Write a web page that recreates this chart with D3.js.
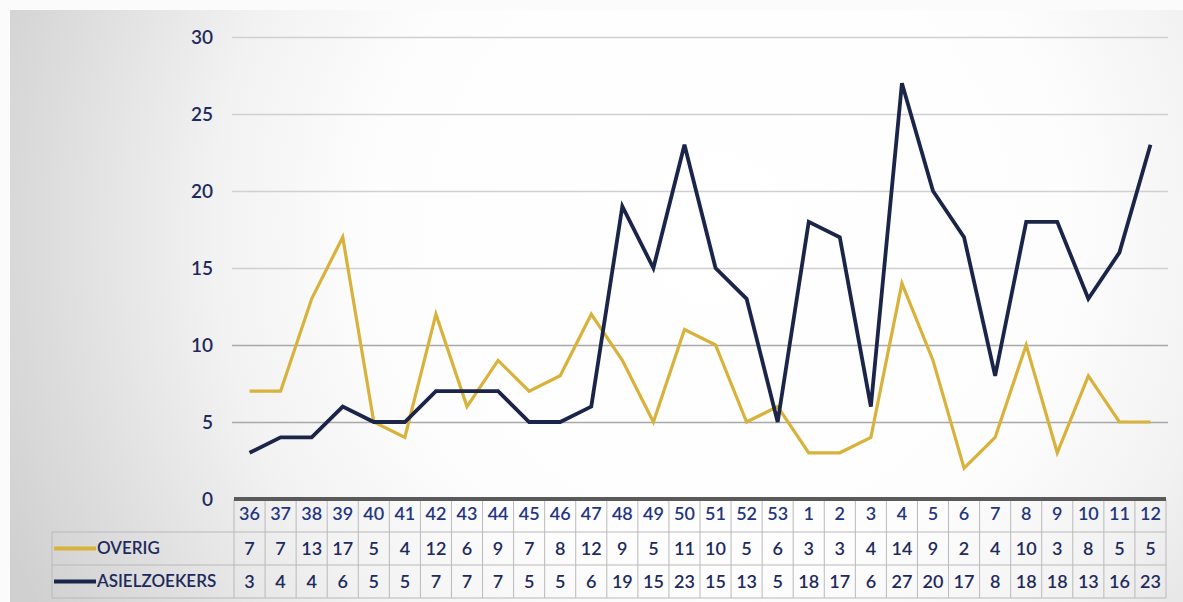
<!DOCTYPE html>
<html><head><meta charset="utf-8">
<script src="https://cdn.jsdelivr.net/npm/d3@7"></script>
<style>html,body{margin:0;padding:0;background:#fff;}svg{display:block;}</style>
</head><body>
<svg id="chart" width="1183" height="602"></svg>
<script>
const weeks = ["36","37","38","39","40","41","42","43","44","45","46","47","48","49","50","51","52","53","1","2","3","4","5","6","7","8","9","10","11","12"];
const overig = [7,7,13,17,5,4,12,6,9,7,8,12,9,5,11,10,5,6,3,3,4,14,9,2,4,10,3,8,5,5];
const asielzoekers = [3,4,4,6,5,5,7,7,7,5,5,6,19,15,23,15,13,5,18,17,6,27,20,17,8,18,18,13,16,23];
const yTicks = [0,5,10,15,20,25,30];
const seriesNames = ["OVERIG","ASIELZOEKERS"];
const seriesColors = ["#d8b23a","#1b2449"];

(function(){
const svg = d3.select("#chart");
const W = 1183, H = 602;
const pLeft = 234, pRight = 1166, pTop = 37, pBottom = 499;
const rowH = [pBottom, 532, 565, 598];
const tableLeft = 52;
const textColor = "#1f2a5c";
const font = "Lato, 'Open Sans', sans-serif";

// scanned background
const defs = svg.append("defs");
const rg = defs.append("radialGradient").attr("id","bg").attr("gradientUnits","userSpaceOnUse")
  .attr("cx",720).attr("cy",230).attr("r",780);
[[0,"#ffffff"],[0.45,"#fdfdfd"],[0.65,"#f2f2f2"],[0.85,"#dedede"],[1,"#d0d0d0"]]
  .forEach(([o,c]) => rg.append("stop").attr("offset",o).attr("stop-color",c));
svg.append("rect").attr("width",W).attr("height",H).attr("fill","#fbfbfb");
svg.append("rect").attr("x",10).attr("y",10).attr("width",W-10).attr("height",H-10).attr("fill","url(#bg)");

const x = d3.scaleBand().domain(weeks).range([pLeft, pRight]).padding(0);
const y = d3.scaleLinear().domain([0,30]).range([pBottom, pTop]);
const cx = d => x(d) + x.bandwidth()/2;

// gridlines
const grid = svg.append("g").attr("transform",`translate(${pLeft-2},0)`)
  .call(d3.axisLeft(y).tickValues(yTicks.filter(t=>t>0)).tickSize(-(pRight-pLeft+4)).tickFormat(""));
grid.select(".domain").remove();
grid.selectAll(".tick line").attr("stroke", d => d<=10 ? "#a8a8a8" : "#d0d0d0").attr("stroke-width",1.6);

// y labels
const yAx = svg.append("g").attr("transform",`translate(213,0)`)
  .call(d3.axisLeft(y).tickValues(yTicks).tickSize(0).tickPadding(0));
yAx.select(".domain").remove();
yAx.selectAll("text").attr("font-family",font).attr("font-size",19).attr("fill",textColor)
  .attr("font-weight",600).attr("text-anchor","end");

// table grid
const tg = svg.append("g");
const cellStroke = "#b9b9b9";
weeks.forEach((w,i) => {
  tg.append("line").attr("x1",x(w)).attr("x2",x(w)).attr("y1",pBottom).attr("y2",rowH[3]).attr("stroke",cellStroke).attr("stroke-width",1);
});
tg.append("line").attr("x1",pRight).attr("x2",pRight).attr("y1",pBottom).attr("y2",rowH[3]).attr("stroke",cellStroke);
tg.append("line").attr("x1",tableLeft).attr("x2",tableLeft).attr("y1",rowH[1]).attr("y2",rowH[3]).attr("stroke",cellStroke);
[rowH[1],rowH[2],rowH[3]].forEach(yy => {
  tg.append("line").attr("x1",tableLeft).attr("x2",pRight).attr("y1",yy).attr("y2",yy).attr("stroke",cellStroke).attr("stroke-width",1);
});

// axis baseline (0)
svg.append("line").attr("x1",pLeft).attr("x2",pRight).attr("y1",y(0)).attr("y2",y(0))
  .attr("stroke","#5a5a5a").attr("stroke-width",4);

// week labels
const xAx = svg.append("g").attr("transform",`translate(0,${pBottom})`)
  .call(d3.axisBottom(x).tickSize(0).tickPadding(8));
xAx.select(".domain").remove();
xAx.selectAll("text").attr("font-family",font).attr("font-size",18).attr("font-weight",600).attr("fill","#243580");

// data rows
[overig, asielzoekers].forEach((vals, r) => {
  const yc = (rowH[r+1] + rowH[r+2]) / 2;
  svg.append("line").attr("x1",tableLeft+2).attr("x2",96).attr("y1",yc).attr("y2",yc)
    .attr("stroke",seriesColors[r]).attr("stroke-width",4);
  svg.append("text").attr("x",97).attr("y",yc).attr("dy","0.35em")
    .attr("font-family",font).attr("font-size",17).attr("font-weight",600).attr("fill",textColor).text(seriesNames[r]);
  svg.append("g").selectAll("text").data(vals).join("text")
    .attr("x",(d,i)=>cx(weeks[i])).attr("y",yc).attr("dy","0.35em").attr("text-anchor","middle")
    .attr("font-family",font).attr("font-size",18).attr("font-weight",600).attr("fill",textColor).text(d=>d);
});

// lines
const line = d3.line().x((d,i)=>cx(weeks[i])).y(d=>y(d));
svg.append("path").datum(overig).attr("d",line).attr("fill","none")
  .attr("stroke",seriesColors[0]).attr("stroke-width",3.2).attr("stroke-linejoin","miter");
svg.append("path").datum(asielzoekers).attr("d",line).attr("fill","none")
  .attr("stroke",seriesColors[1]).attr("stroke-width",3.8).attr("stroke-linejoin","miter");
})();
</script>
</body></html>
